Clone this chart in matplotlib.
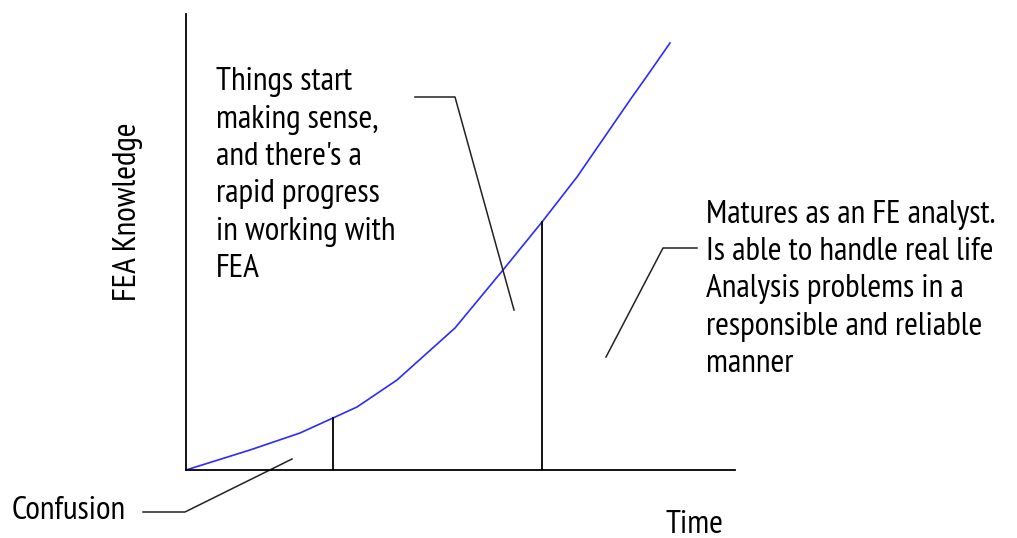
import matplotlib
matplotlib.use('Agg')
import matplotlib.pyplot as plt

plt.rcParams['font.family'] = ['PT Sans Narrow', 'Liberation Sans', 'DejaVu Sans']

# learning curve (time vs. knowledge)
time = [0, 64, 114, 147, 171, 211, 269, 317, 356, 391, 444, 461, 484]
knowledge = [0, 20, 37, 52, 63, 90, 142, 200, 248, 293, 370, 394, 427]

# phase boundaries on the time axis
phase_t = [147, 356]
phase_k = [52, 248]

text_growth = "Things start\nmaking sense,\nand there's a\nrapid progress\nin working with\nFEA"
text_mature = ("Matures as an FE analyst.\nIs able to handle real life\n"
               "Analysis problems in a\nresponsible and reliable\nmanner")

W, H = 1017, 538
fig = plt.figure(figsize=(W / 100, H / 100), dpi=100)
ax = fig.add_axes([186 / W, (H - 470) / H, (735 - 186) / W, (470 - 14) / H])
ax.set_xlim(0, 549)
ax.set_ylim(0, 456)
for s in ['top', 'right']:
    ax.spines[s].set_visible(False)
for s in ['left', 'bottom']:
    ax.spines[s].set_linewidth(1.3)
ax.set_xticks([])
ax.set_yticks([])

ax.plot(time, knowledge, color='#2b2bff', linewidth=1.2, clip_on=False)
for t, k in zip(phase_t, phase_k):
    ax.plot([t, t], [0, k], color='black', linewidth=1.3)

fs = 24
ls = 1.32
# leaders
lk = dict(color='#222222', linewidth=1.1, clip_on=False)
ax.plot([229, 269, 328], [373, 373, 160], **lk)
ax.plot([511, 477, 420], [222, 222, 113], **lk)
ax.plot([-43, -1, 106], [-42, -42, 11], **lk)

# va='baseline' on multi-line text pins the last line's baseline
ax.text(30, 193, text_growth, fontsize=fs, ha='left', va='baseline', linespacing=ls)
ax.text(520, 98, text_mature, fontsize=fs, ha='left', va='baseline', linespacing=ls,
        clip_on=False)
ax.text(-174, -49, 'Confusion', fontsize=fs, ha='left', va='baseline')
ax.text(479, -63, 'Time', fontsize=fs, ha='left', va='baseline')
ax.text(-58, 258, 'FEA Knowledge', fontsize=fs, rotation=90, ha='center', va='center')

fig.savefig('out.png', dpi=100, facecolor='white')
